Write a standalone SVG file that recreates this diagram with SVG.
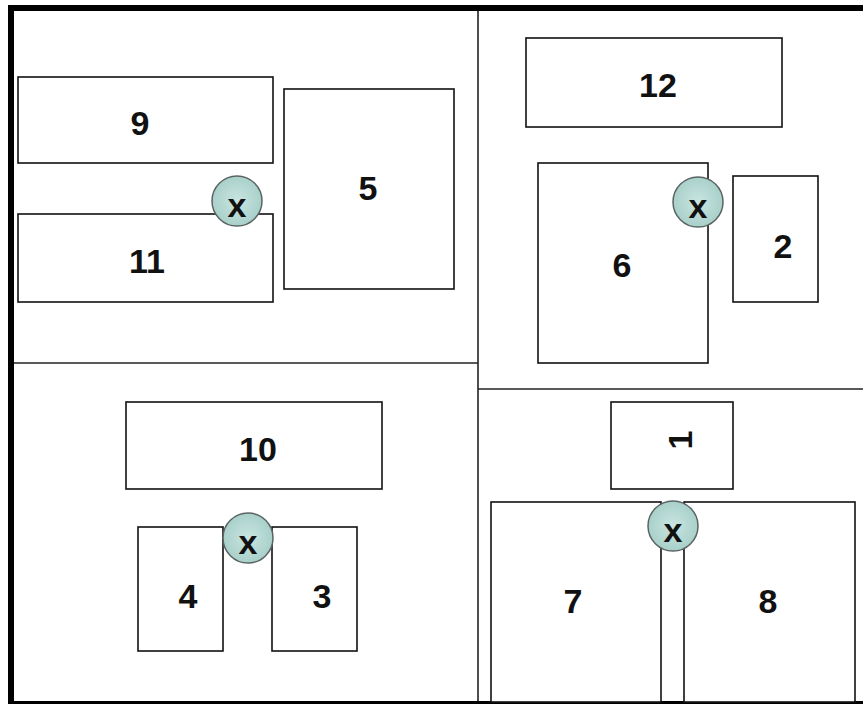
<svg xmlns="http://www.w3.org/2000/svg" width="863" height="704" viewBox="0 0 863 704">
<style>
.box{fill:#fff;stroke:#111;stroke-width:1.6}
.lbl{font-family:"Liberation Sans",Arial,sans-serif;font-weight:bold;font-size:34px;fill:#111;text-anchor:middle}
.jn{fill:url(#jg);stroke:#5a6462;stroke-width:1.5}
.div{stroke:#222;stroke-width:1.6;fill:none}
</style>
<defs>
<radialGradient id="jg" cx="0.5" cy="0.5" r="0.5">
<stop offset="0" stop-color="#c9e5e1"/>
<stop offset="1" stop-color="#a9d0ca"/>
</radialGradient>
</defs>
<rect x="0" y="0" width="863" height="704" fill="#fff"/>
<g id="frame">
<rect x="8" y="5" width="6" height="699" fill="#000"/>
<rect x="8" y="5" width="855" height="6" fill="#000"/>
<rect x="8" y="701" width="855" height="3" fill="#000"/>
<line class="div" x1="478" y1="11" x2="478" y2="701"/>
<line class="div" x1="14" y1="363" x2="478" y2="363"/>
<line class="div" x1="478" y1="389" x2="863" y2="389"/>
</g>
<g id="node-9"><rect class="box" x="18" y="77" width="255" height="86"/><text class="lbl" x="140" y="135">9</text></g>
<g id="node-11"><rect class="box" x="18" y="214" width="255" height="88"/><text class="lbl" x="147" y="273">11</text></g>
<g id="node-5"><rect class="box" x="284" y="89" width="170" height="200"/><text class="lbl" x="368" y="200">5</text></g>
<g id="node-12"><rect class="box" x="526" y="38" width="256" height="89"/><text class="lbl" x="658" y="97">12</text></g>
<g id="node-6"><rect class="box" x="538" y="163" width="170" height="200"/><text class="lbl" x="622" y="277">6</text></g>
<g id="node-2"><rect class="box" x="733" y="176" width="85" height="126"/><text class="lbl" x="783" y="258">2</text></g>
<g id="node-10"><rect class="box" x="126" y="402" width="256" height="87"/><text class="lbl" x="258" y="461">10</text></g>
<g id="node-4"><rect class="box" x="138" y="527" width="85" height="124"/><text class="lbl" x="188" y="608">4</text></g>
<g id="node-3"><rect class="box" x="272" y="527" width="85" height="124"/><text class="lbl" x="322" y="608">3</text></g>
<g id="node-1"><rect class="box" x="611" y="402" width="122" height="87"/><text class="lbl" x="680" y="452" transform="rotate(-90 680 440)">1</text></g>
<g id="node-7"><rect class="box" x="491" y="502" width="170" height="200"/><text class="lbl" x="573" y="613">7</text></g>
<g id="node-8"><rect class="box" x="684" y="502" width="171" height="200"/><text class="lbl" x="768" y="613">8</text></g>
<g id="connectors">
<g id="junction-9-11-5"><circle class="jn" cx="237" cy="201" r="25"/><text class="lbl" x="237" y="217">x</text></g>
<g id="junction-6-2"><circle class="jn" cx="698" cy="202" r="25"/><text class="lbl" x="698" y="218">x</text></g>
<g id="junction-4-3"><circle class="jn" cx="248" cy="538" r="25"/><text class="lbl" x="248" y="554">x</text></g>
<g id="junction-7-8"><circle class="jn" cx="673" cy="526" r="25"/><text class="lbl" x="673" y="542">x</text></g>
</g>
</svg>
